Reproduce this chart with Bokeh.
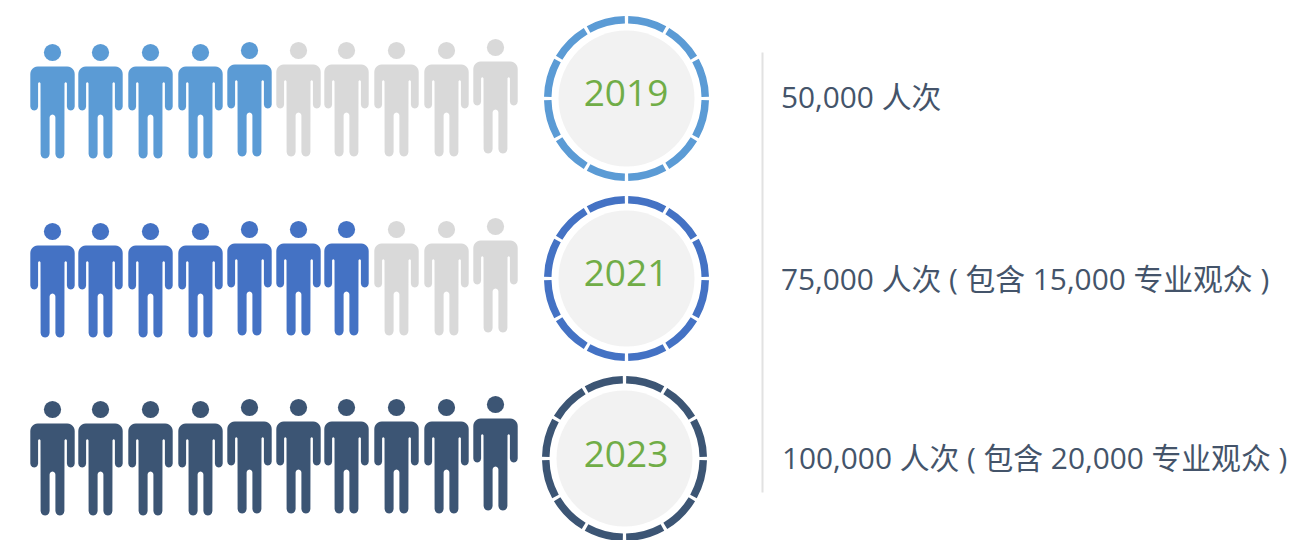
import math
from bokeh.plotting import figure
from bokeh.models import Range1d
from bokeh.core.properties import value
from bokeh.embed import file_html
from bokeh.resources import INLINE

years = ["2019", "2021", "2023"]
filled = [5, 7, 10]
captions = ["50,000 人次", "75,000 人次 ( 包含 15,000 专业观众 )", "100,000 人次 ( 包含 20,000 专业观众 )"]
colors = ["#5b9bd5", "#4472c4", "#3c5574"]
GREY = "#d9d9d9"
TOTAL = 10

person_x = [52, 100, 150, 200, 249, 298, 346, 396, 446, 495]
person_dy = [0, 0, 0, 0, -2, -2, -2, -2, -2, -5]
row_head_y = [52, 231, 409]
ring_x = [626, 626, 624]
ring_y = [98, 278, 458]
year_x = [625.5, 625.5, 625.5]
year_y = [92, 272, 453]
caption_x = [780.5, 780.5, 781.5]
caption_y = [96, 278, 457]

W, H = 1294, 540
p = figure(width=W, height=H, x_range=Range1d(0, W), y_range=Range1d(H, 0),
           output_backend="svg", toolbar_location=None, min_border=0,
           outline_line_color=None, background_fill_color="white", border_fill_color="white")
p.xaxis.visible = False
p.yaxis.visible = False
p.grid.visible = False


def arc(cx, cy, r, a0, a1, n=6):
    return [(cx + r * math.cos(math.radians(a0 + (a1 - a0) * i / n)),
             cy + r * math.sin(math.radians(a0 + (a1 - a0) * i / n))) for i in range(n + 1)]


def body(cx, top):
    """Outline of a figure's body, as offsets from centre x and head-centre y."""
    pts = []
    pts += arc(-14.7, 21.5, 7.5, 180, 270)      # left shoulder
    pts += arc(14.7, 21.5, 7.5, 270, 360)       # right shoulder
    pts += arc(18.3, 54, 3.9, 0, 180)           # right hand
    pts += arc(13.2, 31, 1.2, 0, -180)          # right armpit
    pts += arc(7.4, 101.5, 4.5, 0, 180)         # right foot
    pts += arc(0, 65, 2.9, 0, -180)             # crotch
    pts += arc(-7.4, 101.5, 4.5, 0, 180)        # left foot
    pts += arc(-13.2, 31, 1.2, 0, -180)         # left armpit
    pts += arc(-18.3, 54, 3.9, 0, 180)          # left hand
    return [cx + a for a, _ in pts], [top + b for _, b in pts]


for r in range(3):
    xs, ys, fills, hx, hy = [], [], [], [], []
    for i in range(TOTAL):
        bx, by = body(person_x[i], row_head_y[r] + person_dy[i])
        xs.append(bx)
        ys.append(by)
        fills.append(colors[r] if i < filled[r] else GREY)
        hx.append(person_x[i])
        hy.append(row_head_y[r] + person_dy[i])
    p.patches(xs=xs, ys=ys, fill_color=fills, line_color=None)
    p.circle(x=hx, y=hy, radius=8.6, fill_color=fills, line_color=None)

    cx, cy = ring_x[r], ring_y[r]
    p.circle(x=[cx], y=[cy], radius=68, fill_color="#f2f2f2", line_color=None)
    starts = [math.radians(30 * k + 1.2) for k in range(12)]
    ends = [math.radians(30 * (k + 1) - 1.2) for k in range(12)]
    p.annular_wedge(x=[cx] * 12, y=[cy] * 12, inner_radius=75, outer_radius=82.5,
                    start_angle=starts, end_angle=ends, fill_color=colors[r], line_color=None)
    p.text(x=[year_x[r]], y=[year_y[r]], text=[years[r]], text_align="center", text_baseline="middle",
           text_color="#70ad47", text_font=value("Open Sans"), text_font_size="37px")
    p.text(x=[caption_x[r]], y=[caption_y[r]], text=[captions[r]], text_align="left",
           text_baseline="middle", text_color="#44546a",
           text_font=value("Open Sans, Noto Sans CJK SC"), text_font_size="29.8px")

p.line(x=[762, 762], y=[52, 492], line_color="#e2e2e2", line_width=2)

open("out.html", "w").write(file_html(p, INLINE))
